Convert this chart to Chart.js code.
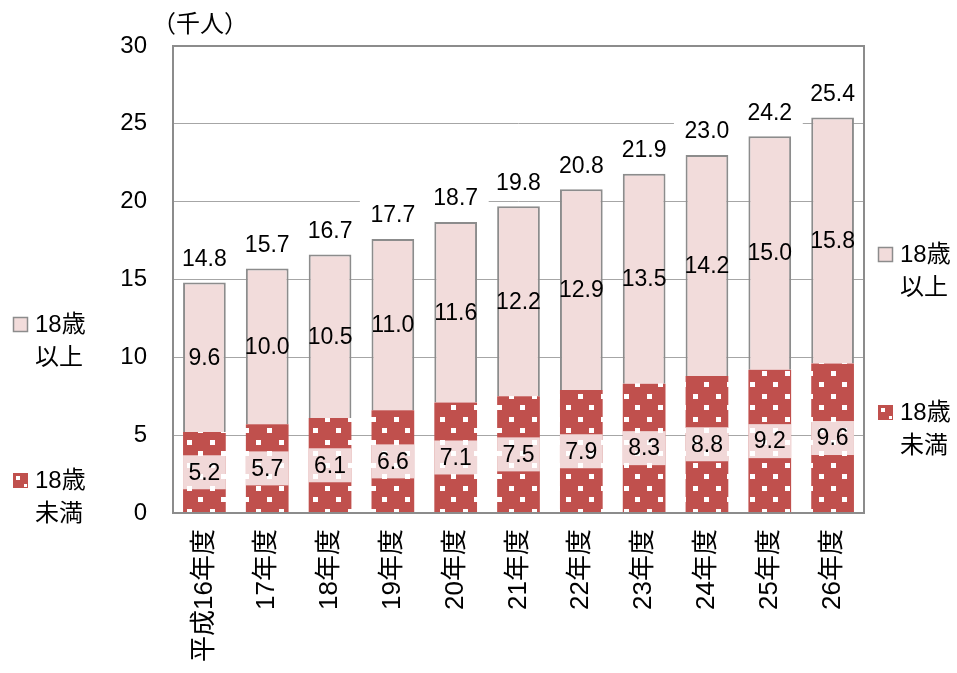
<!DOCTYPE html>
<html>
<head>
  <meta charset="utf-8" />
  <title>18歳未満・18歳以上 推移</title>
  <script src="https://cdn.jsdelivr.net/npm/chart.js"></script>
  <style>
    body { margin: 0; background: #fff; }
    #wrap { width: 957px; height: 673px; }
  </style>
</head>
<body>
  <div id="wrap"><canvas id="chart" width="957" height="673"></canvas></div>
  <script>
    var years = ['平成16年度', '17年度', '18年度', '19年度', '20年度', '21年度', '22年度', '23年度', '24年度', '25年度', '26年度'];
    var under18 = [5.2, 5.7, 6.1, 6.6, 7.1, 7.5, 7.9, 8.3, 8.8, 9.2, 9.6];
    var over18 = [9.6, 10.0, 10.5, 11.0, 11.6, 12.2, 12.9, 13.5, 14.2, 15.0, 15.8];
    var totals = [14.8, 15.7, 16.7, 17.7, 18.7, 19.8, 20.8, 21.9, 23.0, 24.2, 25.4];

    var RED = '#C0504D';
    var PINK = '#F2DCDB';
    var GREY = '#8c8c8c';
    var NUM_FONT = "'Liberation Sans', Arial, 'Noto Sans CJK JP', sans-serif";
    var JP_FONT = "'Liberation Sans', 'Noto Sans CJK JP', sans-serif";

    // red with white square dots, like the excel fill
    function dotPattern(ctx) {
      var c = document.createElement('canvas');
      c.width = 23; c.height = 23;
      var p = c.getContext('2d');
      p.fillStyle = RED;
      p.fillRect(0, 0, 23, 23);
      p.fillStyle = '#fff';
      p.fillRect(3, 3, 5, 5);
      p.fillRect(14, 14, 5, 5);
      return ctx.createPattern(c, 'repeat');
    }

    var ctx = document.getElementById('chart').getContext('2d');
    var redFill = dotPattern(ctx);

    var extras = {
      id: 'extras',
      afterDatasetsDraw: function(chart) {
        var c = chart.ctx;
        var a = chart.chartArea;
        c.save();
        c.font = '23px ' + NUM_FONT;
        c.textAlign = 'center';
        c.textBaseline = 'middle';
        chart.data.datasets.forEach(function(ds, di) {
          var meta = chart.getDatasetMeta(di);
          meta.data.forEach(function(el, i) {
            var cy = (el.y + el.base) / 2;
            if (di === 0) {
              c.fillStyle = 'rgba(255,255,255,0.78)';
              c.fillRect(el.x - el.width / 2, cy - 17, el.width, 34);
            }
            c.fillStyle = '#000';
            c.fillText(ds.data[i].toFixed(1), el.x, cy + 1);
          });
        });
        // totals above the bars
        var top = chart.getDatasetMeta(1);
        top.data.forEach(function(el, i) {
          var cy = el.y - 24;
          c.fillStyle = '#fff';
          c.fillRect(el.x - 33, cy - 18, 66, 36);
          c.fillStyle = '#000';
          c.fillText(totals[i].toFixed(1), el.x, cy + 1);
        });
        // plot frame on top
        c.strokeStyle = GREY;
        c.lineWidth = 2;
        c.strokeRect(a.left, a.top, a.right - a.left, a.bottom - a.top);
        c.restore();
      },
      afterDraw: function(chart) {
        var c = chart.ctx;
        c.save();
        c.fillStyle = '#000';
        c.textBaseline = 'middle';
        c.textAlign = 'left';
        c.font = "24px 'Noto Sans CJK JP', sans-serif";
        c.fillText('（千人）', 152, 23);

        function legendItem(x, y, fill, l1, l2) {
          if (fill !== redFill) {
            c.fillStyle = fill;
            c.fillRect(x, y, 15, 15);
            c.strokeStyle = GREY;
            c.lineWidth = 1.5;
            c.strokeRect(x + 0.5, y + 0.5, 14, 14);
          } else {
            c.fillStyle = RED;
            c.fillRect(x, y, 15, 15);
            c.fillStyle = '#fff';
            c.fillRect(x + 3, y + 3, 4, 4);
            c.fillRect(x + 11, y + 11, 3, 3);
          }
          c.fillStyle = '#000';
          c.font = '24px ' + JP_FONT;
          c.fillText(l1, x + 22, y + 8);
          c.fillText(l2, x + 22, y + 41);
        }
        legendItem(13, 317, PINK, '18歳', '以上');
        legendItem(13, 473, redFill, '18歳', '未満');
        legendItem(878, 247, PINK, '18歳', '以上');
        legendItem(878, 405, redFill, '18歳', '未満');
        c.restore();
      }
    };

    new Chart(ctx, {
      type: 'bar',
      data: {
        labels: years,
        datasets: [{
          label: '18歳未満',
          data: under18,
          backgroundColor: redFill,
          borderWidth: 0,
          barPercentage: 0.68,
          categoryPercentage: 1
        }, {
          label: '18歳以上',
          data: over18,
          backgroundColor: PINK,
          borderColor: GREY,
          borderWidth: 2,
          barPercentage: 0.68,
          categoryPercentage: 1
        }]
      },
      options: {
        responsive: false,
        animation: false,
        layout: { padding: { left: 0, right: 93, top: 46, bottom: 0 } },
        plugins: {
          legend: { display: false },
          tooltip: { enabled: false }
        },
        scales: {
          x: {
            stacked: true,
            grid: { display: false, drawTicks: false },
            border: { display: false },
            ticks: {
              color: '#000',
              font: { family: JP_FONT, size: 26 },
              minRotation: 90,
              maxRotation: 90,
              padding: 16,
              autoSkip: false
            },
            afterFit: function(s) { s.height = 160; }
          },
          y: {
            stacked: true,
            min: 0,
            max: 30,
            grid: { color: '#a6a6a6', lineWidth: 1, drawTicks: false },
            border: { display: false },
            ticks: {
              stepSize: 5,
              color: '#000',
              font: { family: NUM_FONT, size: 24 },
              padding: 26
            },
            afterFit: function(s) { s.width = 173; }
          }
        }
      },
      plugins: [extras]
    });
  </script>
</body>
</html>
